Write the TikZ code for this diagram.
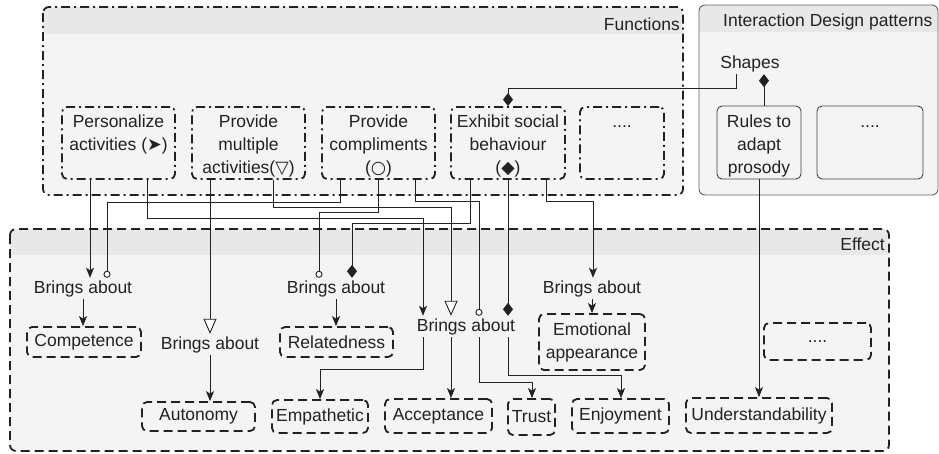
\documentclass[tikz,border=0pt]{standalone}
\usepackage{fontspec}
\setmainfont{Liberation Sans}
\newfontfamily\symfont{DejaVu Sans}
\newcommand\dvsym[1]{{\symfont #1}}
\usetikzlibrary{arrows.meta}

\definecolor{bodyfill}{HTML}{F4F4F4}
\definecolor{headfill}{HTML}{E8E8E8}
\definecolor{ink}{HTML}{222222}

\begin{document}
\begin{tikzpicture}[x=1pt,y=-1pt,
  every node/.style={font=\fontsize{17.5}{23}\selectfont, text=ink},
  txt/.style={inner sep=0pt, align=center},
  fbox/.style={draw=ink, line width=1.8pt, dash pattern=on 9pt off 4pt on 2pt off 4pt,
    rounded corners=5pt, fill=bodyfill, inner sep=0pt},
  ebox/.style={draw=ink, line width=1.8pt, dash pattern=on 9pt off 5pt,
    rounded corners=5pt, fill=bodyfill, inner sep=0pt, align=center},
  pbox/.style={draw=ink!85, line width=0.9pt, rounded corners=5pt, fill=bodyfill, inner sep=0pt},
  bring/.style={inner xsep=0pt, inner ysep=2pt, text height=13pt, text depth=4pt, anchor=base},
  link/.style={draw=ink, line width=0.9pt},
  arr/.style={link, -{Stealth[length=10pt,width=8pt,inset=2.5pt]}},
  tri/.style={link, -{Triangle[open,length=15pt,width=13pt,fill=white]}},
  circ/.style={link, -{Circle[open,length=7pt,fill=white]}},
  dia/.style={link, -{Diamond[length=13pt,width=10pt]}},
]
\useasboundingbox (0,0) rectangle (939,453);

% ---- containers ----
% Functions
\fill[bodyfill, rounded corners=6pt] (43,7) rectangle (683,195);
\begin{scope}
  \clip[rounded corners=6pt] (43,7) rectangle (683,195);
  \fill[headfill] (43,7) rectangle (683,34);
\end{scope}
\draw[ink, line width=1.8pt, dash pattern=on 9pt off 4pt on 2pt off 4pt, rounded corners=6pt]
  (43,7) rectangle (683,195);
\node[txt, anchor=base east] (fn-title) at (680,30) {Functions};

% Interaction Design patterns
\fill[bodyfill, rounded corners=6pt] (699,5) rectangle (938,195);
\begin{scope}
  \clip[rounded corners=6pt] (699,5) rectangle (938,195);
  \fill[headfill] (699,5) rectangle (938,32);
\end{scope}
\draw[ink!70, line width=0.9pt, rounded corners=6pt] (699,5) rectangle (938,195);
\node[txt, anchor=base west] (idp-title) at (723,26) {Interaction Design patterns};

% Effect
\fill[bodyfill, rounded corners=6pt] (10,229) rectangle (889,451);
\begin{scope}
  \clip[rounded corners=6pt] (10,229) rectangle (889,451);
  \fill[headfill] (10,229) rectangle (889,255);
\end{scope}
\draw[ink, line width=1.8pt, dash pattern=on 9pt off 5pt, rounded corners=6pt]
  (10,229) rectangle (889,451);
\node[txt, anchor=base east] (eff-title) at (885,250) {Effect};

% ---- functions ----
\node[fbox, minimum width=113pt, minimum height=72pt] (pa) at (118.5,143) {};
\node[fbox, minimum width=113pt, minimum height=72pt] (pm) at (248.5,143) {};
\node[fbox, minimum width=113pt, minimum height=72pt] (pc) at (378.5,143) {};
\node[fbox, minimum width=114pt, minimum height=72pt] (pe) at (508,143) {};
\node[fbox, minimum width=84pt, minimum height=72pt] (pd) at (622,143) {};
\node[txt, anchor=north] (pa-t) at (118.5,115) {Personalize\\activities (\dvsym{➤})};
\node[txt, anchor=north] (pm-t) at (248.5,115) {Provide\\multiple\\activities(\dvsym{▽})};
\node[txt, anchor=north] (pc-t) at (378.5,115) {Provide\\compliments\\(\dvsym{○})};
\node[txt, anchor=north] (pe-t) at (508,115) {Exhibit social\\behaviour\\(\dvsym{◆})};
\node[txt, anchor=base] (pd-t) at (622,127) {....};

% ---- interaction design patterns ----
\node[bring] (shapes) at (750,68) {Shapes};
\node[pbox, minimum width=84pt, minimum height=73pt] (rules) at (759,142.5) {};
\node[pbox, minimum width=106pt, minimum height=73pt] (pdots) at (870,142.5) {};
\node[txt, anchor=north] (rules-t) at (759,115) {Rules to\\adapt\\prosody};
\node[txt, anchor=base] (pdots-t) at (870,127) {....};

% ---- "Brings about" relations ----
\node[bring] (b1) at (83,293) {Brings about};
\node[bring] (b2) at (210,349) {Brings about};
\node[bring] (b3) at (336,293) {Brings about};
\node[bring] (b4) at (466,331) {Brings about};
\node[bring] (b5) at (592,293) {Brings about};

% ---- effects ----
\node[ebox, minimum width=114pt, minimum height=30pt] (comp) at (84,342) {Competence};
\node[ebox, minimum width=113pt, minimum height=29pt] (auto) at (198.5,416.5) {Autonomy};
\node[ebox, minimum width=113pt, minimum height=30pt] (rel) at (336.5,342) {Relatedness};
\node[ebox, minimum width=96pt, minimum height=33pt] (emp) at (320,416.5) {Empathetic};
\node[ebox, minimum width=107pt, minimum height=34pt] (acc) at (438.5,416) {Acceptance};
\node[ebox, minimum width=47pt, minimum height=36pt] (trust) at (531.5,417) {Trust};
\node[ebox, minimum width=97pt, minimum height=34pt] (enj) at (620.5,416) {Enjoyment};
\node[ebox, minimum width=146pt, minimum height=35pt] (und) at (759,415.5) {Understandability};
\node[ebox, minimum width=106pt, minimum height=56pt] (emo) at (592,342) {Emotional\\appearance};
\node[ebox, minimum width=107pt, minimum height=37pt] (edots) at (817.5,341.5) {....};

% ---- pattern links ----
\draw[dia] (shapes.south -| 736,0) |- (508,88) -- (pe.north);
\draw[dia] (rules.north -| 764,0) -- (shapes.south -| 764,0);
\draw[arr] (rules.south) -- (rules.south |- und.north);

% ---- functions to "Brings about" ----
\draw[arr]  (pa.south -| 90,0)  -- (b1.north -| 90,0);
\draw[arr]  (pa.south -| 147,0) |- (423,218) -- (b4.north -| 423,0);
\draw[tri]  (pm.south -| 210,0) -- (b2.north -| 210,0);
\draw[tri]  (pm.south -| 273,0) |- (451,207) -- (b4.north -| 451,0);
\draw[circ] (pc.south -| 340,0) |- (107,202) -- (b1.north -| 107,0);
\draw[circ] (pc.south -| 378,0) |- (319,212) -- (b3.north -| 319,0);
\draw[circ] (pc.south -| 415,0) |- (479,201) -- (b4.north -| 479,0);
\draw[dia]  (pe.south -| 470,0) |- (352,223) -- (b3.north -| 352,0);
\draw[dia]  (pe.south -| 508,0) -- (b4.north -| 508,0);
\draw[arr]  (pe.south -| 546,0) |- (593,201) -- (b5.north -| 593,0);

% ---- "Brings about" to effects ----
\draw[arr] (b1.south) -- (b1.south |- comp.north);
\draw[arr] (b2.south) -- (b2.south |- auto.north);
\draw[arr] (b3.south) -- (b3.south |- rel.north);
\draw[arr] (b4.south -| 423,0) |- (320,369) -- (emp.north);
\draw[arr] (b4.south -| 451,0) -- (acc.north -| 451,0);
\draw[arr] (b4.south -| 479,0) |- (532,382) -- (trust.north -| 532,0);
\draw[arr] (b4.south -| 508,0) |- (621,375) -- (enj.north -| 621,0);
\draw[arr] (b5.south) -- (b5.south |- emo.north);
\end{tikzpicture}
\end{document}
